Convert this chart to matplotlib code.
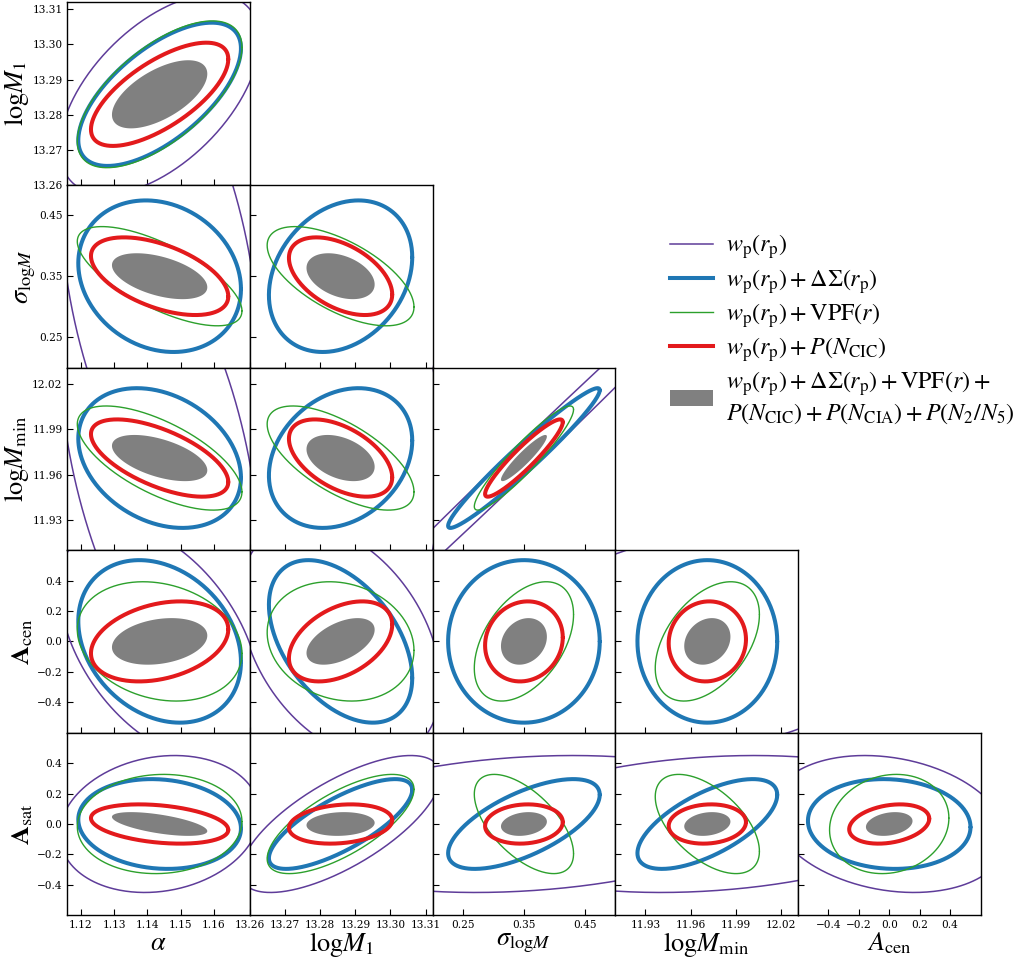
import numpy as np
import matplotlib
matplotlib.use("Agg")
import matplotlib.pyplot as plt
from matplotlib.lines import Line2D
from matplotlib.patches import Patch

plt.rcParams["mathtext.fontset"] = "stix"
plt.rcParams["font.family"] = "serif"
plt.rcParams["font.serif"] = ["DejaVu Serif"]

# HOD parameters: alpha, logM1, sigma_logM, logMmin, Acen, Asat
fiducial = [1.1437, 13.2858, 0.350, 11.9710, 0.0, 0.0]
axis_limits = [(1.116, 1.1708), (13.26, 13.312), (0.2, 0.5),
               (11.91, 12.031), (-0.6, 0.6), (-0.6, 0.6)]
tick_values = [[1.12, 1.13, 1.14, 1.15, 1.16],
               [13.26, 13.27, 13.28, 13.29, 13.30, 13.31],
               [0.25, 0.35, 0.45],
               [11.93, 11.96, 11.99, 12.02],
               [-0.4, -0.2, 0.0, 0.2, 0.4],
               [-0.4, -0.2, 0.0, 0.2, 0.4]]
tick_labels = [["1.12", "1.13", "1.14", "1.15", "1.16"],
               ["13.26", "13.27", "13.28", "13.29", "13.30", "13.31"],
               ["0.25", "0.35", "0.45"],
               ["11.93", "11.96", "11.99", "12.02"],
               ["\u22120.4", "\u22120.2", "0.0", "0.2", "0.4"],
               ["\u22120.4", "\u22120.2", "0.0", "0.2", "0.4"]]
x_axis_labels = [r"$\alpha$", r"$\mathrm{log}M_1$", r"$\sigma_{\mathrm{log}M}$",
                 r"$\mathrm{log}M_{\rm min}$", r"$A_{\rm cen}$", r"$A_{\rm sat}$"]
y_axis_labels = [r"$\alpha$", r"$\mathrm{log}M_1$", r"$\sigma_{\mathrm{log}M}$",
                 r"$\mathrm{log}M_{\rm min}$", r"$\mathbf{A}_{\rm cen}$",
                 r"$\mathbf{A}_{\rm sat}$"]

# 1-sigma half-widths of the marginalised constraints for each probe combination
sigma_wp = [0.0300, 0.0285, 0.40, 0.155, 0.77, 0.45]
sigma_wp_ds = [0.0244, 0.0204, 0.1245, 0.0463, 0.534, 0.295]
sigma_wp_vpf = [0.0247, 0.0209, 0.0815, 0.0345, 0.392, 0.326]
sigma_wp_pcic = [0.0206, 0.0147, 0.0638, 0.0256, 0.263, 0.129]
sigma_all = [0.0143, 0.0097, 0.0377, 0.0153, 0.153, 0.078]

# correlation coefficients for the pairs
# (1,0) (2,0) (2,1) (3,0) (3,1) (3,2) (4,0) (4,1) (4,2) (4,3) (5,0) (5,1) (5,2) (5,3) (5,4)
param_pairs = [(1, 0), (2, 0), (2, 1), (3, 0), (3, 1), (3, 2), (4, 0), (4, 1),
               (4, 2), (4, 3), (5, 0), (5, 1), (5, 2), (5, 3), (5, 4)]
rho_wp = [0.54, -0.36, 0.0, -0.45, 0.0, 0.997, -0.45, -0.37,
          0.2, 0.32, 0.15, 0.7, 0.2, 0.2, -0.21]
rho_wp_ds = [0.64, -0.17, 0.25, -0.28, 0.25, 0.97, -0.25, -0.45,
             0.0, 0.0, -0.1, 0.76, 0.65, 0.65, -0.07]
rho_wp_vpf = [0.64, -0.70, -0.62, -0.65, -0.65, 0.93, -0.2, -0.15,
              0.45, 0.45, 0.05, 0.7, -0.6, -0.55, 0.12]
rho_wp_pcic = [0.68, -0.52, -0.47, -0.62, -0.5, 0.93, 0.3, 0.42,
               0.1, 0.05, -0.3, 0.2, 0.1, 0.1, 0.27]
rho_all = [0.6, -0.48, -0.36, -0.53, -0.38, 0.93, 0.25, 0.5,
           0.2, 0.2, -0.6, 0.1, 0.2, 0.2, 0.25]

probe_labels = [
    r"$w_{\rm p}(r_{\rm p})$",
    r"$w_{\rm p}(r_{\rm p})+\Delta\Sigma(r_{\rm p})$",
    r"$w_{\rm p}(r_{\rm p})+{\rm VPF}(r)$",
    r"$w_{\rm p}(r_{\rm p})+P(N_{\rm CIC})$",
    r"$w_{\rm p}(r_{\rm p})+\Delta\Sigma(r_{\rm p})+{\rm VPF}(r)+$" + "\n"
    + r"$P(N_{\rm CIC})+P(N_{\rm CIA})+P(N_2/N_5)$",
]

line_probes = [
    (sigma_wp, rho_wp, "#5e3c99", 1.1),
    (sigma_wp_ds, rho_wp_ds, "#1f77b4", 2.9),
    (sigma_wp_vpf, rho_wp_vpf, "#2ca02c", 1.0),
    (sigma_wp_pcic, rho_wp_pcic, "#e31a1c", 2.9),
]
fill_color = "#808080"


def ellipse_xy(cx, cy, sx, sy, rho, n=400):
    t = np.linspace(0, 2 * np.pi, n)
    x = cx + sx * np.cos(t)
    y = cy + sy * (rho * np.cos(t) + np.sqrt(1 - rho ** 2) * np.sin(t))
    return x, y


W, H = 1018, 958
fig = plt.figure(figsize=(W / 100, H / 100), dpi=100)

left0, top0 = 67.3, 2.3
pw, ph = 182.65, 182.6

for i in range(1, 6):
    r = i - 1
    for j in range(0, i):
        x0 = left0 + j * pw
        y0 = top0 + r * ph
        ax = fig.add_axes([x0 / W, 1 - (y0 + ph) / H, pw / W, ph / H])
        k = param_pairs.index((i, j))
        for sig, rho, col, lw in line_probes:
            ex, ey = ellipse_xy(fiducial[j], fiducial[i], sig[j], sig[i], rho[k])
            ax.plot(ex, ey, color=col, lw=lw, solid_capstyle="round")
        ex, ey = ellipse_xy(fiducial[j], fiducial[i], sigma_all[j], sigma_all[i], rho_all[k])
        ax.fill(ex, ey, color=fill_color, lw=0, zorder=3)

        ax.set_xlim(axis_limits[j])
        ax.set_ylim(axis_limits[i])
        ax.set_xticks(tick_values[j])
        ax.set_yticks(tick_values[i])
        ax.tick_params(direction="in", length=4, width=0.8, labelsize=7.6,
                       top=False, right=False, pad=3.5)
        for sp in ax.spines.values():
            sp.set_linewidth(1.0)
        if j == 0:
            ax.set_yticklabels(tick_labels[i])
            ax.set_ylabel(y_axis_labels[i], fontsize=19, labelpad=1)
        else:
            ax.set_yticklabels([])
        if r == 4:
            ax.set_xticklabels(tick_labels[j])
            ax.set_xlabel(x_axis_labels[j], fontsize=19, labelpad=0)
        else:
            ax.set_xticklabels([])

handles = [Line2D([], [], color=c, lw=lw) for _, _, c, lw in line_probes]
handles.append(Patch(facecolor=fill_color, edgecolor="none"))
fig.legend(handles, probe_labels, loc="upper left",
           bbox_to_anchor=(648 / W, 1 - 211 / H), frameon=False,
           fontsize=17.3, handlelength=1.8, handletextpad=0.55, labelspacing=0.22)

fig.savefig("out.png", dpi=100)
